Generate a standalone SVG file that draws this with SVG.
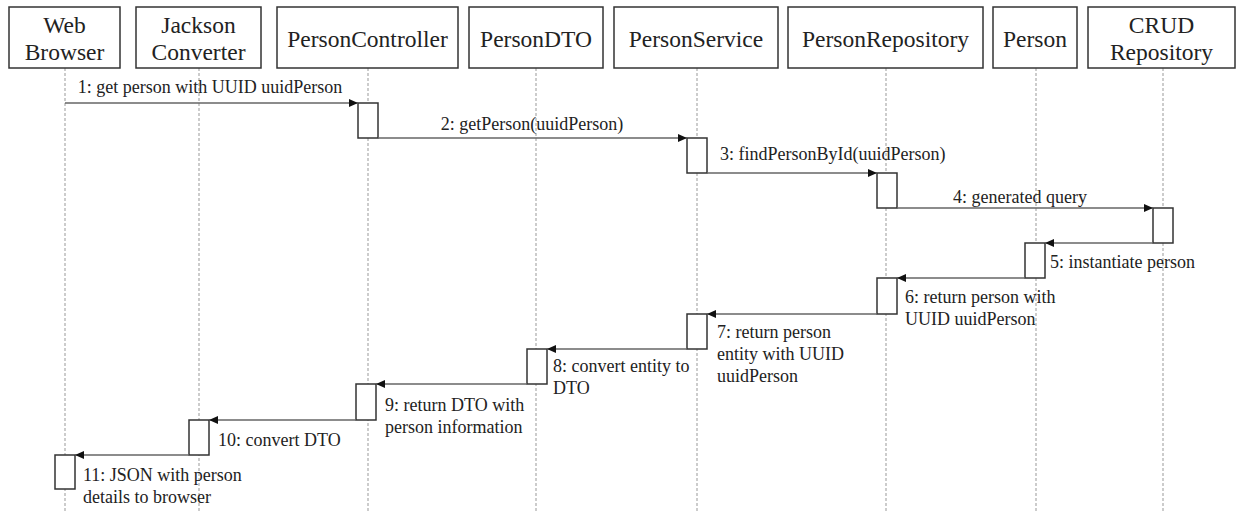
<svg xmlns="http://www.w3.org/2000/svg" width="1236" height="511" viewBox="0 0 1236 511">
<style>
.box{fill:#fff;stroke:#333;stroke-width:1.5}
.hd{font-family:"Liberation Serif","Times New Roman",serif;font-size:23.5px;fill:#222;text-anchor:middle}
.life{stroke:#999;stroke-width:1;stroke-dasharray:3 2;fill:none}
.act{fill:#fff;stroke:#333;stroke-width:1.5}
.msg{stroke:#666;stroke-width:1.3;fill:none;marker-end:url(#ah)}
.lb{font-family:"Liberation Serif","Times New Roman",serif;font-size:18px;fill:#222}
.c{text-anchor:middle}
</style>
<defs>
<marker id="ah" markerWidth="10" markerHeight="8" refX="9" refY="4" orient="auto" markerUnits="userSpaceOnUse">
<path d="M0,0 L9,4 L0,8 Z" fill="#111"/>
</marker>
</defs>
<rect width="1236" height="511" fill="#fff"/>
<g id="lifelines">
<line class="life" x1="65" y1="68" x2="65" y2="511"/>
<line class="life" x1="199" y1="68" x2="199" y2="511"/>
<line class="life" x1="368" y1="68" x2="368" y2="511"/>
<line class="life" x1="536" y1="68" x2="536" y2="511"/>
<line class="life" x1="697" y1="68" x2="697" y2="511"/>
<line class="life" x1="886" y1="68" x2="886" y2="511"/>
<line class="life" x1="1036" y1="68" x2="1036" y2="511"/>
<line class="life" x1="1163" y1="68" x2="1163" y2="511"/>
</g>
<g id="web-browser"><rect class="box" x="9" y="7" width="111" height="61"/><text class="hd" x="64.5" y="33">Web</text><text class="hd" x="64.5" y="59.5">Browser</text></g>
<g id="jackson-converter"><rect class="box" x="136" y="7" width="125" height="61"/><text class="hd" x="198.5" y="33">Jackson</text><text class="hd" x="198.5" y="59.5">Converter</text></g>
<g id="person-controller"><rect class="box" x="277" y="7" width="181" height="61"/><text class="hd" x="367.5" y="46.5">PersonController</text></g>
<g id="person-dto"><rect class="box" x="469" y="7" width="134" height="61"/><text class="hd" x="536" y="46.5">PersonDTO</text></g>
<g id="person-service"><rect class="box" x="614" y="7" width="164" height="61"/><text class="hd" x="696" y="46.5">PersonService</text></g>
<g id="person-repository"><rect class="box" x="788" y="7" width="195" height="61"/><text class="hd" x="885.5" y="46.5">PersonRepository</text></g>
<g id="person"><rect class="box" x="993" y="7" width="84" height="61"/><text class="hd" x="1035" y="46.5">Person</text></g>
<g id="crud-repository"><rect class="box" x="1088" y="7" width="147" height="61"/><text class="hd" x="1161.5" y="33">CRUD</text><text class="hd" x="1161.5" y="59.5">Repository</text></g>
<g id="activations">
<rect class="act" x="358" y="103" width="20" height="35"/>
<rect class="act" x="687" y="138" width="20" height="35"/>
<rect class="act" x="877" y="173" width="20" height="35"/>
<rect class="act" x="1153" y="208" width="20" height="35"/>
<rect class="act" x="1025" y="243" width="20" height="35"/>
<rect class="act" x="877" y="278" width="20" height="36"/>
<rect class="act" x="687" y="314" width="20" height="35"/>
<rect class="act" x="527" y="349" width="20" height="35"/>
<rect class="act" x="356" y="384" width="20" height="36"/>
<rect class="act" x="189" y="420" width="20" height="35"/>
<rect class="act" x="55" y="455" width="20" height="34"/>
</g>
<g id="connectors">
<line class="msg" x1="65" y1="103" x2="358" y2="103"/>
<line class="msg" x1="378" y1="138" x2="687" y2="138"/>
<line class="msg" x1="707" y1="173" x2="877" y2="173"/>
<line class="msg" x1="897" y1="208" x2="1153" y2="208"/>
<line class="msg" x1="1153" y1="243" x2="1045" y2="243"/>
<line class="msg" x1="1025" y1="278" x2="897" y2="278"/>
<line class="msg" x1="877" y1="314" x2="707" y2="314"/>
<line class="msg" x1="687" y1="349" x2="547" y2="349"/>
<line class="msg" x1="527" y1="384" x2="376" y2="384"/>
<line class="msg" x1="356" y1="420" x2="209" y2="420"/>
<line class="msg" x1="189" y1="455" x2="75" y2="455"/>
</g>
<g id="labels">
<text class="lb c" x="210" y="93">1: get person with UUID uuidPerson</text>
<text class="lb c" x="532" y="130">2: getPerson(uuidPerson)</text>
<text class="lb" x="720" y="160">3: findPersonById(uuidPerson)</text>
<text class="lb c" x="1020" y="203">4: generated query</text>
<text class="lb" x="1050" y="268">5: instantiate person</text>
<text class="lb" x="905" y="303">6: return person with</text>
<text class="lb" x="905" y="325">UUID uuidPerson</text>
<text class="lb" x="717" y="338">7: return person</text>
<text class="lb" x="717" y="360">entity with UUID</text>
<text class="lb" x="717" y="382">uuidPerson</text>
<text class="lb" x="553" y="372">8: convert entity to</text>
<text class="lb" x="553" y="394">DTO</text>
<text class="lb" x="385" y="411">9: return DTO with</text>
<text class="lb" x="385" y="433">person information</text>
<text class="lb" x="218" y="446">10: convert DTO</text>
<text class="lb" x="83" y="481">11: JSON with person</text>
<text class="lb" x="83" y="503">details to browser</text>
</g>
</svg>
